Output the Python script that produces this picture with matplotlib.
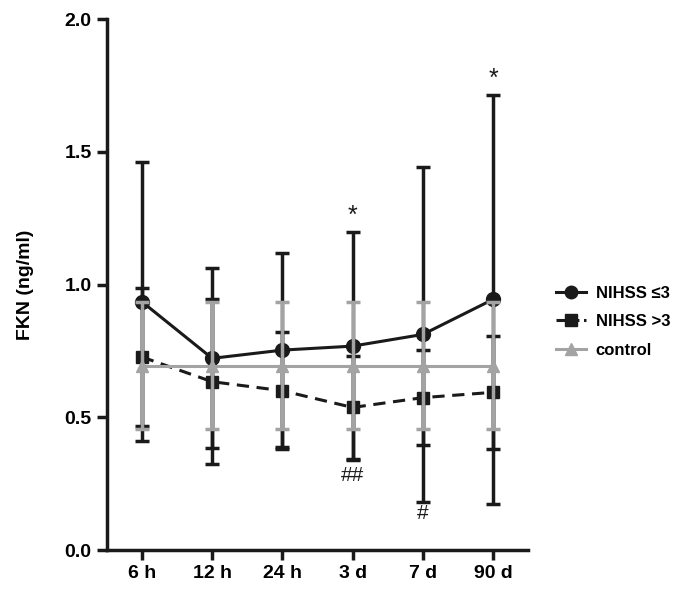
import numpy as np
import matplotlib.pyplot as plt
from matplotlib.lines import Line2D

plt.rcParams['font.family'] = ['Liberation Sans', 'DejaVu Sans']

# Données
temps = ["6 h", "12 h", "24 h", "3 d", "7 d", "90 d"]
nihss_bas = [0.935, 0.722, 0.753, 0.768, 0.812, 0.944]
nihss_bas_sd = [0.525, 0.339, 0.364, 0.429, 0.631, 0.770]
nihss_haut = [0.727, 0.634, 0.600, 0.537, 0.574, 0.594]
nihss_haut_sd = [0.261, 0.310, 0.220, 0.195, 0.179, 0.212]
controle = [0.695, 0.695, 0.695, 0.695, 0.695, 0.695]
controle_sd = [0.240, 0.240, 0.240, 0.240, 0.240, 0.240]

# annotations : (indice, texte, écart par rapport au bout de la barre)
signif = [(3, "*", 0.06), (5, "*", 0.06), (3, "##", -0.06), (4, "#", -0.045)]

noir = "#1a1a1a"
gris = "#a3a3a3"

fig = plt.figure(figsize=(6.85, 5.94), dpi=100)
ax = fig.add_axes([0.156, 0.074, 0.615, 0.894])

x = np.arange(len(temps))

style = dict(lw=2.2, capsize=5, capthick=2.5, elinewidth=2.5)
ax.errorbar(x, nihss_bas, yerr=nihss_bas_sd, color=noir, marker="o", ms=10,
            zorder=2, **style)
ax.errorbar(x, nihss_haut, yerr=nihss_haut_sd, color=noir, ls=(0, (4, 2.5)),
            marker="s", ms=9, zorder=3, **style)
ax.errorbar(x, controle, yerr=controle_sd, color=gris, marker="^", ms=9,
            zorder=4, **style)

for i, txt, dy in signif:
    if dy > 0:
        y = nihss_bas[i] + nihss_bas_sd[i] + dy
        fs = 18
    else:
        y = min(nihss_bas[i] - nihss_bas_sd[i], nihss_haut[i] - nihss_haut_sd[i]) + dy
        fs = 15
    ax.text(x[i], y, txt, ha="center", va="center", fontsize=fs, color=noir)

ax.set_xlim(-0.5, 5.5)
ax.set_ylim(0, 2.0)
ax.set_yticks([0, 0.5, 1.0, 1.5, 2.0])
ax.set_yticklabels(["0.0", "0.5", "1.0", "1.5", "2.0"])
ax.set_xticks(x)
ax.set_xticklabels(temps)

for s in ["top", "right"]:
    ax.spines[s].set_visible(False)
for s in ["left", "bottom"]:
    ax.spines[s].set_linewidth(2.5)
    ax.spines[s].set_color(noir)
ax.tick_params(width=2.5, length=7, color=noir, labelsize=14, pad=4)
for lab in ax.get_xticklabels() + ax.get_yticklabels():
    lab.set_fontweight("bold")

ax.set_ylabel("FKN (ng/ml)", fontsize=14, fontweight="bold", labelpad=22)

poignees = [
    Line2D([], [], color=noir, lw=2.2, marker="o", ms=9),
    Line2D([], [], color=noir, lw=2.2, ls=(0, (3, 1.5)), marker="s", ms=8),
    Line2D([], [], color=gris, lw=2.2, marker="^", ms=8),
]
leg = ax.legend(poignees, ["NIHSS \u22643", "NIHSS >3", "control"],
                loc="center left", bbox_to_anchor=(1.03, 0.43), frameon=False,
                fontsize=12, handlelength=1.8, handletextpad=0.6, labelspacing=0.8)
for t in leg.get_texts():
    t.set_fontweight("bold")

fig.savefig("out.png", dpi=100)
